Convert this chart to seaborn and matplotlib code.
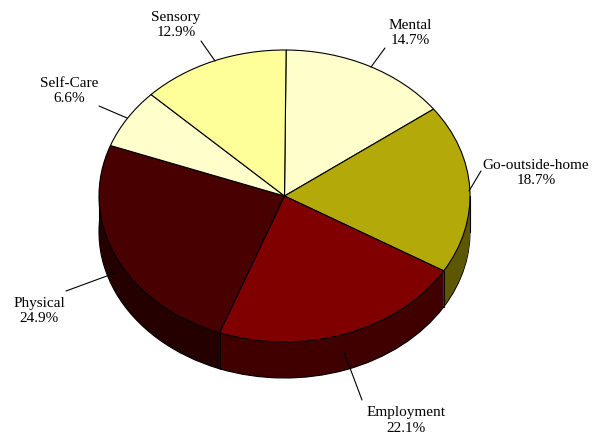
import numpy as np
import matplotlib
matplotlib.use('Agg')
import matplotlib.pyplot as plt
import seaborn as sns

# Chart values
categories = ['Mental', 'Go-outside-home', 'Employment', 'Physical', 'Self-Care', 'Sensory']
shares = [14.7, 18.7, 22.1, 24.9, 6.6, 12.9]
top_colors = ['#FFFFCC', '#B3AA0A', '#800000', '#480000', '#FFFFCC', '#FFFF99']
side_colors = ['#808066', '#5C5700', '#400000', '#240000', '#808066', '#808050']

# Layout in reference pixels
W, H = 600, 437
CX, CY, RX, RY, DEPTH = 284.5, 196, 185.5, 146, 36
START = 89.5
label_pos = [(410, 33), (536, 173), (406, 420.5), (39, 311), (69, 91), (176, 25)]
leaders = [((385, 48), (371, 67)), ((481, 171), (469, 191)), ((362, 400), (344, 352)),
           ((66, 291), (115, 273)), ((99, 106), (127, 118)), ((201, 41), (215, 61))]


def px(x, y):
    """Reference pixel to data coordinates (unit circle pie)."""
    return (x - CX) / RX, (CY - y) / RY


sns.set_theme(style='white')
plt.rcParams['font.family'] = ['Liberation Serif', 'DejaVu Serif']

fig = plt.figure(figsize=(W / 100, H / 100), dpi=100)
ax = fig.add_axes([0, 0, 1, 1])

# --- side wall: stack of dark pies, bottom one carries the outline ---
for d in range(DEPTH, 0, -1):
    edge = {'linewidth': 0.8, 'edgecolor': 'black'} if d == DEPTH else {'linewidth': 0}
    ax.pie(shares, colors=sns.color_palette(side_colors), startangle=START, counterclock=False,
           center=(0, -d / RY), radius=1, wedgeprops=edge)

# --- top face ---
ax.pie(shares, colors=sns.color_palette(top_colors), startangle=START, counterclock=False,
       center=(0, 0), radius=1, wedgeprops={'linewidth': 0.8, 'edgecolor': 'black'})

# vertical edges where a slice boundary is on the front, plus the silhouette
bounds = START - np.cumsum(shares) / np.sum(shares) * 360
for b in bounds:
    if np.sin(np.radians(b)) < 0:
        x, y = np.cos(np.radians(b)), np.sin(np.radians(b))
        ax.plot([x, x], [y, y - DEPTH / RY], color='black', lw=0.8)
for x in (-1, 1):
    ax.plot([x, x], [0, -DEPTH / RY], color='black', lw=0.8)

# labels and leader lines
for name, val, pos, line in zip(categories, shares, label_pos, leaders):
    tx, ty = px(*pos)
    ax.text(tx, ty, f'{name}\n{val}%', ha='center', va='center', fontsize=11,
            color='black', linespacing=1.25)
    (x0, y0), (x1, y1) = px(*line[0]), px(*line[1])
    ax.plot([x0, x1], [y0, y1], color='black', lw=0.8)

ax.set_aspect('auto')
ax.set_xlim(-CX / RX, (W - CX) / RX)
ax.set_ylim((CY - H) / RY, CY / RY)
ax.axis('off')

fig.savefig('out.png', dpi=100, facecolor='white')
